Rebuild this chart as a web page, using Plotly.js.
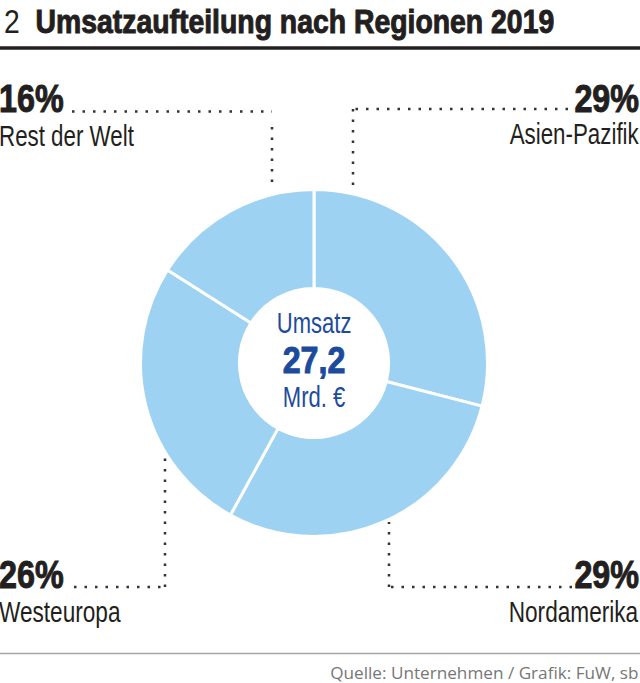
<!DOCTYPE html>
<html><head><meta charset="utf-8">
<script src="https://cdn.plot.ly/plotly-3.0.1.min.js"></script>
<style>html,body{margin:0;padding:0;background:#fff}</style></head>
<body><div id="chart" style="width:640px;height:683px"></div>
<script>
const regions = ["Asien-Pazifik","Nordamerika","Westeuropa","Rest der Welt"];
const shares = [29,29,26,16];
const chartTitle = "Umsatzaufteilung nach Regionen 2019";
const chartNumber = "2";
const source = "Quelle: Unternehmen / Grafik: FuW, sb";
const centerTop = "Umsatz", centerValue = "27,2", centerBottom = "Mrd. €";

const W=640,H=683;
const px=x=>x/W, py=y=>1-y/H;
const fam='"Liberation Sans",sans-serif';
const ink='#231f20', blue='#1d4b9c';

function label(x,y,text,size,anchor,color,family){
  return {xref:'paper',yref:'paper',x:px(x),y:py(y),text:text,showarrow:false,
    xanchor:anchor,yanchor:'middle',font:{family:family||fam,size:size,color:color||ink}};
}
function dotted(pts){
  let out=[];
  for(let i=0;i<pts.length-1;i++){
    out.push({type:'line',xref:'paper',yref:'paper',x0:px(pts[i][0]),y0:py(pts[i][1]),
      x1:px(pts[i+1][0]),y1:py(pts[i+1][1]),line:{color:'#333',width:2.5,dash:'2.5px,8px'}});
  }
  return out;
}
const pct=i=>'<b>'+shares[i]+'%</b>';
const annotations=[
  label(-3,99,pct(3),38,'left'), label(-3,136,regions[3],29,'left'),
  label(641,99,pct(0),38,'right'), label(641,134,regions[0],29,'right'),
  label(-3,575,pct(2),38,'left'), label(-3,612,regions[2],29,'left'),
  label(641,575,pct(1),38,'right'), label(641,612,regions[1],29,'right'),
  label(314,323,centerTop,29,'center',blue),
  label(314,360,'<b>'+centerValue+'</b>',37,'center',blue),
  label(314,397,centerBottom,29,'center',blue),
  label(641,672,source,16.5,'right','#777','"Open Sans",sans-serif')
];
// horizontal squeeze per annotation, same order as above (reference type is condensed)
const squeeze=[.85,.77,.85,.77,.85,.78,.85,.78,.76,.87,.76,1.04];
const shapes=[
  {type:'line',xref:'paper',yref:'paper',x0:0,x1:1,y0:py(48),y1:py(48),line:{color:ink,width:3.5}},
  {type:'line',xref:'paper',yref:'paper',x0:0,x1:1,y0:py(653.5),y1:py(653.5),line:{color:'#a3a3a3',width:1.5}},
  ...dotted([[72,111.5],[272,111.5]]),...dotted([[272,127],[272,190]]),
  ...dotted([[568,109],[353,109],[353,190]]),
  ...dotted([[74,587],[165,587],[165,456]]),
  ...dotted([[572,587],[389,587],[389,522]])
];
Plotly.newPlot('chart',[{
  type:'pie',labels:regions,values:shares,sort:false,direction:'clockwise',rotation:0,hole:0.43,
  textinfo:'none',hoverinfo:'label+percent',
  marker:{colors:['#9dd2f2','#9dd2f2','#9dd2f2','#9dd2f2'],line:{color:'#fff',width:3}},
  domain:{x:[px(140.5),px(487.5)],y:[py(536.5),py(189.5)]},showlegend:false
}],{
  width:W,height:H,margin:{l:0,r:0,t:0,b:0},paper_bgcolor:'#fff',showlegend:false,
  title:{text:chartNumber+'  <b>'+chartTitle+'</b>',xref:'paper',yref:'paper',x:px(4),y:py(21),
    xanchor:'left',yanchor:'middle',font:{family:fam,size:33,color:ink}},
  annotations:annotations,shapes:shapes
},{displayModeBar:false,responsive:false}).then(gd=>{
  const squeezeText=(el,s,anchor)=>{
    const b=el.getBBox();
    const a=anchor==='left'?b.x:anchor==='right'?b.x+b.width:b.x+b.width/2;
    const prev=el.getAttribute('transform')||'';
    el.setAttribute('transform',prev+` translate(${a},0) scale(${s},1) translate(${-a},0)`);
  };
  gd.querySelectorAll('.annotation').forEach((g,i)=>{
    const t=g.querySelector('text');
    squeezeText(t,squeeze[i],annotations[i].xanchor);
  });
  const title=gd.querySelector('.gtitle');
  if(title) squeezeText(title,.86,'left');
  gd.querySelectorAll('text tspan, .gtitle tspan').forEach(ts=>{
    if((ts.getAttribute('style')||'').includes('bold')){
      ts.setAttribute('stroke',ts.closest('text').style.fill||ink);
      ts.setAttribute('stroke-width','1');
    }
  });
});
</script></body></html>
